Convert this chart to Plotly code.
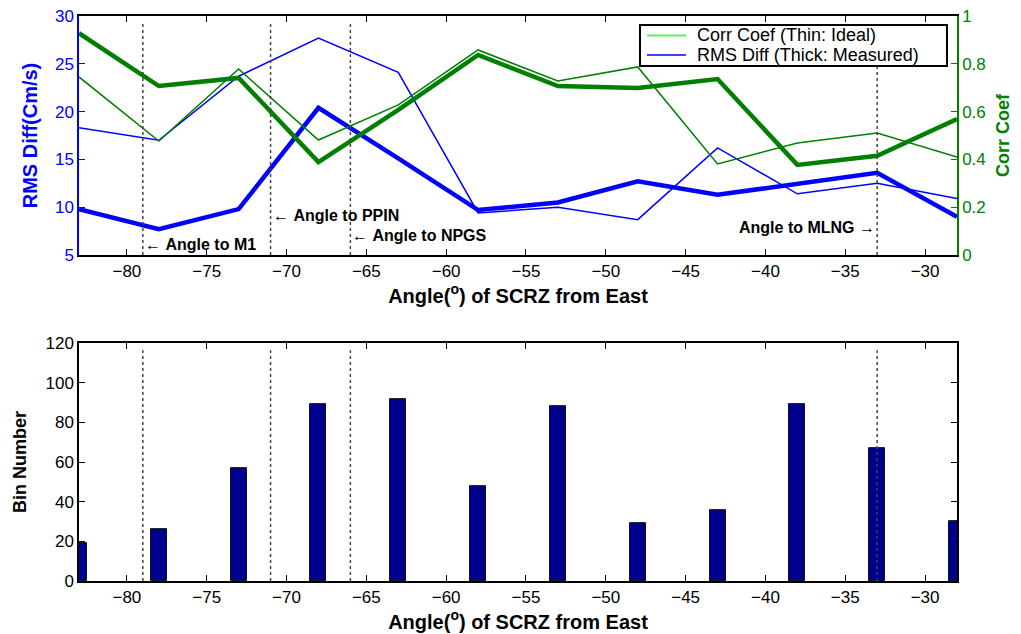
import plotly.graph_objects as go

# ---- data ----
angles = [-83, -78, -73, -68, -63, -58, -53, -48, -43, -38, -33, -28]
rms_measured = [9.8, 7.7, 9.8, 20.4, 15.1, 9.7, 10.5, 12.7, 11.3, 12.4, 13.6, 9.0]
rms_ideal = [18.3, 17.0, 23.7, 27.7, 24.1, 9.4, 10.0, 8.7, 16.2, 11.4, 12.5, 10.9]
corr_measured = [0.928, 0.707, 0.741, 0.389, 0.607, 0.837, 0.707, 0.699, 0.736, 0.377, 0.415, 0.569]
corr_ideal = [0.745, 0.477, 0.778, 0.481, 0.628, 0.858, 0.728, 0.787, 0.381, 0.469, 0.510, 0.410]
bin_counts = [19, 26, 57, 89, 92, 48, 88, 29, 36, 89, 67, 30]

station_names = ["M1", "PPIN", "NPGS", "MLNG"]
station_angles = [-79, -71, -66, -33]
station_label_y = [6.1, 9.1, 7.0, 7.9]
station_side = ["left", "left", "left", "right"]

legend_labels = ["Corr Coef (Thin: Ideal)", "RMS Diff (Thick: Measured)"]
legend_colors = ["#66EE66", "#0000FF"]

xticks = [-80, -75, -70, -65, -60, -55, -50, -45, -40, -35, -30]

BLUE = "#0000FF"
GREEN = "#007F00"
FONT = "Liberation Sans, Arial, Helvetica, sans-serif"

fig = go.Figure()

# top panel: RMS (left axis) and Corr (right axis)
fig.add_trace(go.Scatter(x=angles, y=rms_ideal, mode="lines", line=dict(color=BLUE, width=1.5),
                         xaxis="x", yaxis="y", showlegend=False))
fig.add_trace(go.Scatter(x=angles, y=rms_measured, mode="lines", line=dict(color=BLUE, width=4.5),
                         xaxis="x", yaxis="y", showlegend=False))
fig.add_trace(go.Scatter(x=angles, y=corr_ideal, mode="lines", line=dict(color=GREEN, width=1.5),
                         xaxis="x", yaxis="y2", showlegend=False))
fig.add_trace(go.Scatter(x=angles, y=corr_measured, mode="lines", line=dict(color=GREEN, width=4.5),
                         xaxis="x", yaxis="y2", showlegend=False))

# bottom panel: bars
fig.add_trace(go.Bar(x=angles, y=bin_counts, width=1.0,
                     marker=dict(color="#00008F", line=dict(color="#111111", width=1)),
                     xaxis="x2", yaxis="y3", showlegend=False))

# station dotted lines
shapes = []
for a in station_angles:
    for xr, yr in [("x", "y domain"), ("x2", "y3 domain")]:
        shapes.append(dict(type="line", xref=xr, yref=yr, x0=a, x1=a, y0=0.0, y1=0.97,
                           line=dict(color="#444444", width=1.5, dash="dot"), layer="above"))

annotations = []
for name, a, yv, side in zip(station_names, station_angles, station_label_y, station_side):
    txt = "\u2190 <b>Angle to %s</b>" % name if side == "left" else "<b>Angle to %s</b> \u2192" % name
    annotations.append(dict(x=a, y=yv, xref="x", yref="y", text=txt, showarrow=False,
                            xanchor=side, yanchor="middle", font=dict(size=16, color="black", family=FONT)))

# manual legend box (paper coords)
PLOT_L, PLOT_W, PLOT_B, PLOT_H = 79, 878, 581, 565
def px(xp):
    return (xp - PLOT_L) / PLOT_W
def py(yp):
    return (PLOT_B - yp) / PLOT_H

shapes.append(dict(type="rect", xref="paper", yref="paper", x0=px(640), x1=px(947), y0=py(66), y1=py(25),
                   line=dict(color="black", width=2), fillcolor="white", layer="above"))
for i, (lab, col) in enumerate(zip(legend_labels, legend_colors)):
    yy = 35.5 + i * 19.5
    shapes.append(dict(type="line", xref="paper", yref="paper", x0=px(647), x1=px(686), y0=py(yy), y1=py(yy),
                       line=dict(color=col, width=2 if i == 0 else 1.3), layer="above"))
    annotations.append(dict(x=px(695), y=py(yy), xref="paper", yref="paper", text=lab, showarrow=False,
                            xanchor="left", yanchor="middle", font=dict(size=18, color="black", family=FONT)))

axis_title = "<b>Angle(<sup>o</sup>) of SCRZ from East</b>"
xcommon = dict(range=[-83, -28], tickvals=xticks, ticks="inside", ticklen=6, showline=True, linecolor="black",
               linewidth=1.5, mirror="ticks", showgrid=False, zeroline=False, tickcolor="black",
               tickfont=dict(size=17, color="black"), automargin=False,
               title=dict(text=axis_title, font=dict(size=20, color="black"), standoff=8))

fig.update_layout(
    width=1021, height=634,
    margin=dict(l=PLOT_L, r=1021 - PLOT_L - PLOT_W, t=16, b=634 - PLOT_B),
    paper_bgcolor="white", plot_bgcolor="white",
    font=dict(family=FONT),
    bargap=0,
    showlegend=False,
    xaxis=dict(domain=[0, 1], anchor="y", **xcommon),
    yaxis=dict(domain=[0.577, 1], range=[5, 30], tickvals=[5, 10, 15, 20, 25, 30], ticks="inside", ticklen=6,
               showline=True, linecolor=BLUE, linewidth=1.5, tickcolor=BLUE, showgrid=False, zeroline=False,
               tickfont=dict(size=17, color=BLUE), automargin=False,
               title=dict(text="<b>RMS Diff(Cm/s)</b>", font=dict(size=20, color=BLUE), standoff=12)),
    yaxis2=dict(overlaying="y", side="right", anchor="x", range=[0, 1], tickvals=[0, 0.2, 0.4, 0.6, 0.8, 1],
                ticktext=["0", "0.2", "0.4", "0.6", "0.8", "1"], ticks="inside", ticklen=6, showline=True,
                linecolor=GREEN, linewidth=1.5, tickcolor=GREEN, showgrid=False, zeroline=False,
                tickfont=dict(size=17, color=GREEN), automargin=False,
                title=dict(text="<b>Corr Coef</b>", font=dict(size=18, color=GREEN), standoff=12)),
    xaxis2=dict(domain=[0, 1], anchor="y3", **xcommon),
    yaxis3=dict(domain=[0, 0.421], anchor="x2", range=[0, 120], tickvals=[0, 20, 40, 60, 80, 100, 120],
                ticks="inside", ticklen=6, showline=True, linecolor="black", linewidth=1.5, mirror="ticks",
                tickcolor="black", showgrid=False, zeroline=False, tickfont=dict(size=17, color="black"),
                automargin=False,
                title=dict(text="<b>Bin Number</b>", font=dict(size=18, color="black"), standoff=14)),
    shapes=shapes,
    annotations=annotations,
)

fig.write_html("out.html")
